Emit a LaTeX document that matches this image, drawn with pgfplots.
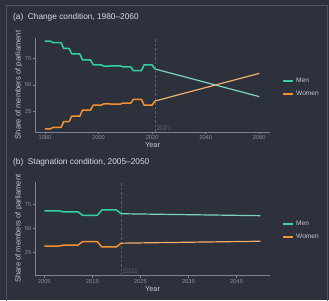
\documentclass[border=0pt]{standalone}
\usepackage{pgfplots}
\pgfplotsset{compat=1.18}
\usepackage{fontspec}
\setmainfont{Liberation Sans}
\definecolor{bg}{HTML}{2C313C}
\definecolor{framec}{HTML}{4F5561}
\definecolor{axisc}{HTML}{7F8590}
\definecolor{tickc}{HTML}{8A909B}
\definecolor{labc}{HTML}{C3C7CF}
\definecolor{titc}{HTML}{D8DCE3}
\definecolor{menc}{HTML}{33D1A0}
\definecolor{womc}{HTML}{F5922F}
\definecolor{menp}{HTML}{7DD3BC}
\definecolor{womp}{HTML}{F3AE6D}
\definecolor{vline}{HTML}{5C626D}

\pgfplotstableread{
year women men
1980 8.5 91.5
1982 8.5 91.5
1983 9.8 90.2
1986 9.8 90.2
1987 15.4 84.6
1989 15.4 84.6
1990 20.5 79.5
1993 20.5 79.5
1994 26.3 73.7
1997 26.3 73.7
1998 30.9 69.1
2001 30.9 69.1
2002 32.2 67.8
2004 32.2 67.8
2005 31.8 68.2
2008 31.8 68.2
2009 32.8 67.2
2012 32.8 67.2
2013 36.5 63.5
2016 36.5 63.5
2017 30.9 69.1
2020 30.9 69.1
2021 34.8 65.2
}\histA

\pgfplotstableread{
year women men
2005 31.8 68.2
2008 31.8 68.2
2009 32.8 67.2
2012 32.8 67.2
2013 36.5 63.5
2016 36.5 63.5
2017 30.9 69.1
2020 30.9 69.1
2021 34.8 65.2
}\histB

\pgfplotstableread{
year women men
2021 34.8 65.2
2060 61.0 39.0
}\projA

\pgfplotstableread{
year women men
2021 34.8 65.2
2050 36.8 63.2
}\projB

\pgfplotsset{
 panel/.style={
  scale only axis, width=235pt, height=94pt,
  axis x line*=bottom, axis y line*=left,
  axis line style={-, axisc, line width=0.9pt},
  tick align=outside, major tick length=2pt,
  tick style={axisc, line width=0.6pt},
  ticklabel style={font=\fontsize{5.7}{6.5}\selectfont, text=tickc, inner sep=1.5pt},
  /pgf/number format/assume math mode=true, /pgf/number format/1000 sep={},
  xlabel=Year, xlabel style={font=\fontsize{7.4}{8}\selectfont, text=labc, inner sep=1pt},
  ylabel=Share of members of parliament,
  ylabel style={font=\fontsize{7.6}{8}\selectfont, text=labc, inner sep=1pt},
  ytick={25,50,75},
  legend style={draw=none, fill=none, font=\fontsize{6.6}{7}\selectfont, text=labc, row sep=3pt},
  legend cell align=left,
  legend image code/.code={\draw[#1,line width=1.6pt] (0pt,0pt) -- (10pt,0pt);},
  hist/.style={line width=1.5pt, line join=round},
  proj/.style={line width=1.2pt, line join=round, forget plot},
 }
}

\begin{document}
\begin{tikzpicture}
\useasboundingbox (0,0) rectangle (329pt,300pt);
\fill[bg] (0,0) rectangle (329pt,300pt);
\draw[framec, line width=0.8pt] (6pt,-1pt) -- (6pt,295pt) -- (327pt,295pt) -- (327pt,-1pt);

\node[anchor=west, text=titc, font=\fontsize{8.3}{9}\selectfont, inner sep=0pt] at (13pt,283pt) {(a)\hspace{0.55em}Change condition, 1980--2060};
\node[anchor=west, text=titc, font=\fontsize{8.3}{9}\selectfont, inner sep=0pt] at (13pt,138pt) {(b)\hspace{0.55em}Stagnation condition, 2005--2050};

\begin{axis}[panel, at={(35pt,168pt)}, anchor=south west,
  xmin=1976.27, xmax=2064.0, ymin=5.5, ymax=94.5,
  xtick={1980,2000,2020,2040,2060},
  legend style={at={(1.04,0.472)}, anchor=west}]
\addplot[vline, line width=0.6pt, dash pattern=on 2.5pt off 2pt, forget plot] coordinates {(2021,5.5) (2021,94.5)};
\addplot[proj, menp] table[x=year, y=men] {\projA};
\addplot[proj, womp] table[x=year, y=women] {\projA};
\addplot[hist, menc] table[x=year, y=men] {\histA};
\addlegendentry{Men}
\addplot[hist, womc] table[x=year, y=women] {\histA};
\addlegendentry{Women}
\node[anchor=south west, text=vline, font=\fontsize{6.7}{7}\selectfont, inner sep=1.5pt] at (axis cs:2021,5.5) {2021};
\end{axis}

\begin{axis}[panel, at={(35pt,24.3pt)}, anchor=south west,
  xmin=2003.06, xmax=2052.0, ymin=1.2, ymax=98.3,
  xtick={2005,2015,2025,2035,2045},
  legend style={at={(1.04,0.483)}, anchor=west}]
\addplot[vline, line width=0.6pt, dash pattern=on 2.5pt off 2pt, forget plot] coordinates {(2021,1.2) (2021,98.3)};
\addplot[proj, menp] table[x=year, y=men] {\projB};
\addplot[proj, womp] table[x=year, y=women] {\projB};
\addplot[hist, menc] table[x=year, y=men] {\histB};
\addlegendentry{Men}
\addplot[hist, womc] table[x=year, y=women] {\histB};
\addlegendentry{Women}
\node[anchor=south west, text=vline, font=\fontsize{6.7}{7}\selectfont, inner sep=1.5pt] at (axis cs:2021,1.2) {2021};
\end{axis}
\end{tikzpicture}
\end{document}
